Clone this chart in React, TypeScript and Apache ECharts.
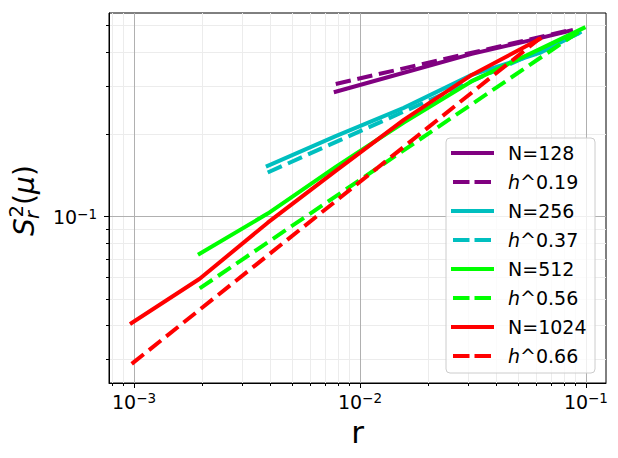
import React, { useEffect, useRef } from 'react';
import * as echarts from 'echarts';

const FONT = 'DejaVu Sans';

// axis extents
const X_MIN = 0.000775;
const X_MAX = 0.1227;
const Y_MIN = 0.0246;
const Y_MAX = 0.556;

// tick values
const xMajor = [0.001, 0.01, 0.1];
const xMinor = [0.0008, 0.0009, 0.002, 0.003, 0.004, 0.005, 0.006, 0.007, 0.008, 0.009, 0.02, 0.03, 0.04, 0.05, 0.06, 0.07, 0.08, 0.09];
const yMajor = [0.1];
const yMinor = [0.03, 0.04, 0.05, 0.06, 0.07, 0.08, 0.09, 0.2, 0.3, 0.4, 0.5];

// measured curves S_r^2(mu) vs r
const r128 = [0.0078125, 0.015625, 0.03125, 0.0625, 0.0859];
const s128 = [0.2865, 0.336, 0.394, 0.45, 0.48];
const r256 = [0.00390625, 0.0078125, 0.015625, 0.03125, 0.0625, 0.09375];
const s256 = [0.1533, 0.197, 0.25, 0.33, 0.397, 0.471];
const r512 = [0.001953, 0.00390625, 0.0078125, 0.015625, 0.03125, 0.0625, 0.0977];
const s512 = [0.0731, 0.1026, 0.152, 0.221, 0.313, 0.41, 0.49];
const r1024 = [0.0009766, 0.001953, 0.00390625, 0.0078125, 0.015625, 0.03125, 0.0625];
const s1024 = [0.0408, 0.0592, 0.095, 0.147, 0.226, 0.33, 0.447];

// power-law fits h^alpha (end points)
const fitR128 = [0.0078125, 0.0859];
const fitS128 = [0.3058, 0.482];
const fitR256 = [0.00390625, 0.09375];
const fitS256 = [0.145, 0.47];
const fitR512 = [0.001953, 0.0977];
const fitS512 = [0.0546, 0.488];
const fitR1024 = [0.0009766, 0.0625];
const fitS1024 = [0.0289, 0.449];

const names = ['N=128', 'h^0.19', 'N=256', 'h^0.37', 'N=512', 'h^0.56', 'N=1024', 'h^0.66'];
const colors = ['#800080', '#800080', '#00bfbf', '#00bfbf', '#00ff00', '#00ff00', '#ff0000', '#ff0000'];
const xsList = [r128, fitR128, r256, fitR256, r512, fitR512, r1024, fitR1024];
const ysList = [s128, fitS128, s256, fitS256, s512, fitS512, s1024, fitS1024];

const SOLID_ICON = 'path://M0,0H43V4H0Z';
const DASH_ICON = 'path://M0,2L0.01,2L0,2ZM2,0H18.5V4H2ZM23.5,0H40V4H23.5ZM43,2L42.99,2L43,2Z';

function supLabel(v: number) {
  const e = Math.round(Math.log10(v));
  return `{b|10}{s|${e < 0 ? '\u2212' + -e : e}}`;
}

const labelRich = {
  b: { fontFamily: FONT, fontSize: 19, lineHeight: 20, color: '#000', verticalAlign: 'bottom' },
  s: { fontFamily: FONT, fontSize: 13.5, lineHeight: 14, color: '#000', verticalAlign: 'top' },
};

export default function App() {
  const ref = useRef<HTMLDivElement>(null);
  useEffect(() => {
    const chart = echarts.init(ref.current!, null, { renderer: 'svg' });
    const series: any[] = names.map((name, i) => ({
      name,
      type: 'line',
      xAxisIndex: 0,
      yAxisIndex: 0,
      data: xsList[i].map((x, j) => [x, ysList[i][j]]),
      symbol: 'none',
      showSymbol: false,
      silent: true,
      z: 2,
      itemStyle: { color: colors[i], borderWidth: 0 },
      lineStyle: {
        color: colors[i],
        width: 4,
        type: i % 2 === 0 ? 'solid' : [15.4, 6.7],
        cap: i % 2 === 0 ? 'square' : 'butt',
        join: 'round',
      },
    }));

    chart.setOption({
      animation: false,
      backgroundColor: '#fff',
      grid: {
        left: 109,
        top: 13,
        width: 497,
        height: 370,
        show: true,
        borderColor: '#000',
        borderWidth: 1,
        backgroundColor: 'transparent',
        containLabel: false,
        z: 0,
      },
      xAxis: [
        {
          type: 'log',
          logBase: 10,
          min: X_MIN,
          max: X_MAX,
          position: 'bottom',
          z: 1,
          axisLine: { show: true, onZero: false, lineStyle: { color: '#000', width: 1 } },
          axisTick: { show: true, length: 5, customValues: xMajor, lineStyle: { color: '#000', width: 1 } },
          axisLabel: { show: true, customValues: xMajor, margin: 8, formatter: supLabel, rich: labelRich },
          splitLine: { show: true, lineStyle: { color: '#b0b0b0', width: 1 } },
          minorTick: { show: false },
          name: 'r',
          nameLocation: 'middle',
          nameGap: 33,
          nameTextStyle: { fontFamily: FONT, fontSize: 31, color: '#000' },
        },
        {
          type: 'log',
          logBase: 10,
          min: X_MIN,
          max: X_MAX,
          position: 'bottom',
          z: 0,
          axisLine: { show: false, onZero: false },
          axisTick: { show: true, length: 3, customValues: xMinor, lineStyle: { color: '#000', width: 1 } },
          axisLabel: { show: false },
          splitLine: { show: true, lineStyle: { color: '#ececec', width: 1 } },
        },
      ],
      yAxis: [
        {
          type: 'log',
          logBase: 10,
          min: Y_MIN,
          max: Y_MAX,
          position: 'left',
          z: 1,
          axisLine: { show: true, onZero: false, lineStyle: { color: '#000', width: 1 } },
          axisTick: { show: true, length: 5, customValues: yMajor, lineStyle: { color: '#000', width: 1 } },
          axisLabel: { show: true, customValues: yMajor, margin: 12, formatter: supLabel, rich: labelRich },
          splitLine: { show: true, lineStyle: { color: '#b0b0b0', width: 1 } },
        },
        {
          type: 'log',
          logBase: 10,
          min: Y_MIN,
          max: Y_MAX,
          position: 'left',
          z: 0,
          axisLine: { show: false, onZero: false },
          axisTick: { show: true, length: 3, customValues: yMinor, lineStyle: { color: '#000', width: 1 } },
          axisLabel: { show: false },
          splitLine: { show: true, lineStyle: { color: '#ececec', width: 1 } },
        },
      ],
      legend: {
        orient: 'vertical',
        left: 446,
        top: 138,
        z: 4,
        itemWidth: 43,
        itemHeight: 4,
        itemGap: 9,
        padding: [5, 0, 5, 5],
        backgroundColor: 'transparent',
        borderWidth: 0,
        selectedMode: false,
        itemStyle: { borderWidth: 0 },
        data: names.map((name, i) => ({ name, icon: i % 2 === 0 ? SOLID_ICON : DASH_ICON })),
        formatter: (name: string) =>
          name.startsWith('h') ? `{sp| }{i|h}${name.slice(1)}` : `{sp| }${name}`,
        textStyle: {
          fontFamily: FONT,
          fontSize: 19,
          lineHeight: 20,
          color: '#000',
          rich: {
            sp: { width: 9, fontSize: 19, lineHeight: 20 },
            i: { fontFamily: FONT, fontSize: 19, lineHeight: 20, fontStyle: 'italic', color: '#000' },
          },
        },
      },
      graphic: [
        {
          type: 'rect',
          z: 3,
          silent: true,
          shape: { x: 446, y: 138, width: 149, height: 235, r: 4 },
          style: { fill: 'rgba(255,255,255,0.8)', stroke: '#cccccc', lineWidth: 1 },
        },
        {
          type: 'group',
          x: 34,
          y: 236,
          rotation: Math.PI / 2,
          silent: true,
          children: [
            { type: 'text', x: 0, y: -9.8, style: { text: 'S', fontFamily: FONT, fontSize: 28, fontStyle: 'italic', fill: '#000', verticalAlign: 'middle' } },
            { type: 'text', x: 18.5, y: -17.5, style: { text: '2', fontFamily: FONT, fontSize: 19.6, fill: '#000', verticalAlign: 'middle' } },
            { type: 'text', x: 17, y: -1.5, style: { text: 'r', fontFamily: FONT, fontSize: 19.6, fontStyle: 'italic', fill: '#000', verticalAlign: 'middle' } },
            { type: 'text', x: 31, y: -9.8, style: { text: '(', fontFamily: FONT, fontSize: 28, fill: '#000', verticalAlign: 'middle' } },
            { type: 'text', x: 42, y: -9.8, style: { text: '\u03bc', fontFamily: FONT, fontSize: 28, fontStyle: 'italic', fill: '#000', verticalAlign: 'middle' } },
            { type: 'text', x: 60, y: -9.8, style: { text: ')', fontFamily: FONT, fontSize: 28, fill: '#000', verticalAlign: 'middle' } },
          ],
        },
      ],
      series,
    });
    return () => chart.dispose();
  }, []);
  return <div ref={ref} style={{ position: 'fixed', left: 0, top: 0, width: 618, height: 458 }} />;
}
